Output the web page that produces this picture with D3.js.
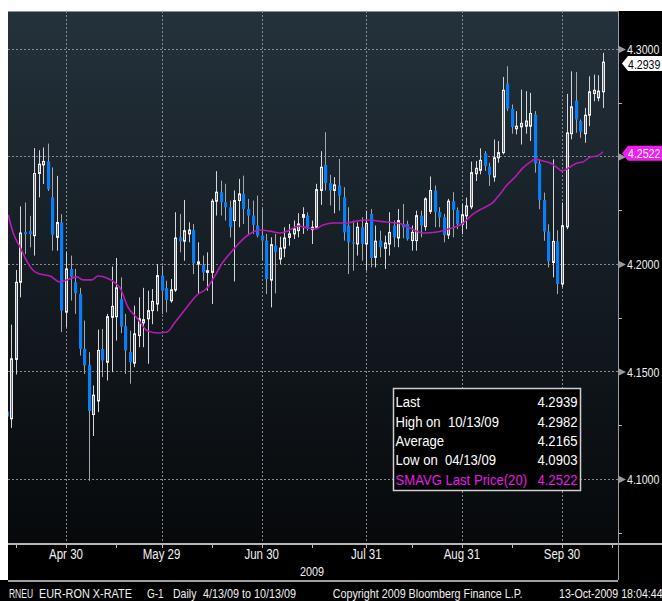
<!DOCTYPE html>
<html><head><meta charset="utf-8">
<script src="https://cdn.jsdelivr.net/npm/d3@7"></script>
<style>
html,body{margin:0;padding:0;background:#fff;}
svg{display:block;font-family:"Liberation Sans",Arial,sans-serif;}
text{white-space:pre;}
</style></head><body>
<svg id="c" width="662" height="601"></svg>
<script>
// ---- data (EUR-RON daily, trading-day index 0 = 4/13/09 ... 131 = 10/13/09)
const opens=[4.1314,4.1280,4.1556,4.1915,4.2148,4.2153,4.2132,4.2421,4.2461,4.2477,
4.2310,4.2124,4.2193,4.1776,4.1977,4.1915,4.1861,4.1605,4.1531,4.1300,
4.1363,4.1605,4.1543,4.1752,4.1755,4.1837,4.1711,4.1590,4.1539,4.1667,
4.1726,4.1745,4.1783,4.1814,4.1946,4.1888,4.1829,4.1879,4.2124,4.2106,
4.2140,4.2158,4.2000,4.1995,4.1961,4.1961,4.2292,4.2334,4.2287,4.2264,
4.2202,4.2295,4.2326,4.2256,4.2225,4.2179,4.2132,4.2109,4.1925,4.2085,
4.2023,4.2074,4.2124,4.2140,4.2155,4.2217,4.2225,4.2160,4.2171,4.2342,
4.2461,4.2376,4.2342,4.2365,4.2311,4.2179,4.2101,4.2093,4.2171,4.2093,
4.2233,4.2031,4.2109,4.2073,4.2093,4.2179,4.2121,4.2186,4.2186,4.2109,
4.2109,4.2225,4.2174,4.2245,4.2342,4.2241,4.2217,4.2135,4.2292,4.2250,
4.2185,4.2224,4.2266,4.2420,4.2436,4.2515,4.2453,4.2405,4.2494,4.2518,
4.2839,4.2722,4.2629,4.2638,4.2641,4.2641,4.2695,4.2467,4.2297,4.2151,
4.2007,4.2105,4.1907,4.2173,4.2606,4.2760,4.2665,4.2606,4.2692,4.2793,
4.2773,4.2801];
const highs=[4.1340,4.1718,4.1972,4.2268,4.2286,4.2224,4.2539,4.2529,4.2542,4.2560,
4.2449,4.2410,4.2232,4.2054,4.2039,4.1977,4.1889,4.1737,4.1590,4.1435,
4.1695,4.1698,4.1768,4.1988,4.2028,4.1938,4.1768,4.1690,4.1806,4.1845,
4.1889,4.1876,4.1884,4.2000,4.1992,4.1922,4.1930,4.2241,4.2233,4.2298,
4.2194,4.2186,4.2101,4.2039,4.2054,4.2303,4.2432,4.2388,4.2373,4.2295,
4.2342,4.2396,4.2411,4.2303,4.2295,4.2318,4.2256,4.2140,4.2124,4.2140,
4.2127,4.2171,4.2186,4.2202,4.2236,4.2264,4.2240,4.2202,4.2373,4.2525,
4.2613,4.2415,4.2404,4.2489,4.2357,4.2264,4.2202,4.2194,4.2217,4.2248,
4.2256,4.2179,4.2155,4.2132,4.2241,4.2202,4.2256,4.2279,4.2202,4.2179,
4.2248,4.2248,4.2310,4.2407,4.2365,4.2264,4.2233,4.2303,4.2334,4.2263,
4.2281,4.2309,4.2476,4.2479,4.2538,4.2525,4.2471,4.2579,4.2572,4.2870,
4.2920,4.2742,4.2711,4.2811,4.2804,4.2796,4.2711,4.2487,4.2332,4.2185,
4.2487,4.2157,4.2286,4.2791,4.2896,4.2893,4.2672,4.2726,4.2873,4.2881,
4.2878,4.2982];
const lows=[4.0903,4.1238,4.1486,4.1845,4.2046,4.2077,4.2039,4.2310,4.2372,4.2340,
4.2062,4.2062,4.1683,4.1706,4.1830,4.1768,4.1574,4.1489,4.0991,4.1200,
4.1311,4.1474,4.1458,4.1497,4.1644,4.1678,4.1489,4.1443,4.1520,4.1613,
4.1613,4.1536,4.1720,4.1780,4.1767,4.1775,4.1820,4.1870,4.2054,4.2015,
4.2101,4.1953,4.1860,4.1922,4.1876,4.1814,4.2225,4.2225,4.2202,4.2124,
4.1919,4.2171,4.2186,4.2140,4.2140,4.2124,4.2015,4.1860,4.1798,4.1863,
4.2000,4.2031,4.2085,4.2116,4.2124,4.2140,4.2155,4.2093,4.2163,4.2275,
4.2342,4.2272,4.2236,4.2248,4.2109,4.1953,4.1969,4.2039,4.2015,4.1969,
4.1984,4.1984,4.2031,4.1977,4.2039,4.2078,4.2078,4.2120,4.2109,4.2062,
4.2062,4.2124,4.2155,4.2233,4.2171,4.2171,4.2101,4.2116,4.2124,4.2162,
4.2139,4.2162,4.2255,4.2386,4.2417,4.2433,4.2363,4.2383,4.2471,4.2510,
4.2711,4.2606,4.2603,4.2556,4.2606,4.2572,4.2425,4.2255,4.2108,4.1984,
4.1938,4.1860,4.1892,4.2162,4.2580,4.2610,4.2587,4.2564,4.2641,4.2757,
4.2757,4.2726];
const closes=[4.1291,4.1559,4.1915,4.2144,4.2138,4.2139,4.2421,4.2464,4.2477,4.2348,
4.2136,4.2193,4.1783,4.1977,4.1941,4.1864,4.1605,4.1528,4.1316,4.1390,
4.1598,4.1551,4.1755,4.1803,4.1889,4.1709,4.1598,4.1543,4.1675,4.1745,
4.1741,4.1783,4.1826,4.1946,4.1876,4.1832,4.1880,4.2121,4.2106,4.2155,
4.2158,4.2003,4.2010,4.1961,4.1969,4.2292,4.2334,4.2287,4.2264,4.2171,
4.2295,4.2326,4.2256,4.2225,4.2182,4.2132,4.2109,4.1930,4.2090,4.2057,
4.2074,4.2121,4.2140,4.2163,4.2186,4.2230,4.2171,4.2171,4.2346,4.2450,
4.2376,4.2342,4.2368,4.2318,4.2147,4.2101,4.2095,4.2171,4.2093,4.2189,
4.2028,4.2106,4.2078,4.2098,4.2147,4.2124,4.2202,4.2171,4.2116,4.2147,
4.2225,4.2179,4.2303,4.2342,4.2241,4.2217,4.2135,4.2292,4.2252,4.2185,
4.2229,4.2270,4.2425,4.2445,4.2482,4.2456,4.2414,4.2494,4.2518,4.2808,
4.2722,4.2637,4.2641,4.2654,4.2665,4.2700,4.2467,4.2297,4.2151,4.2012,
4.2105,4.1907,4.2178,4.2610,4.2731,4.2672,4.2615,4.2692,4.2801,4.2808,
4.2804,4.2939];
// 20-day simple moving average at trading-day positions
const smaIdx=[0.3,1.4,2.9,4.6,5.7,7.3,9.5,11.7,13.2,15.4,16.7,18.7,20,22,23.8,24.9,26.6,28.6,31,33.2,35.2,37,39.6,41.8,44,45.3,47.5,49.7,51.9,54.1,55.6,57.8,60,61.8,64,66.2,67.7,69.5,71.7,74.8,77,79.2,81.4,83.5,86.4,88.6,91.5,94.5,97.4,100,102.5,104.7,106.9,108.4,109.9,111.7,113.4,115,116.1,117.8,119.4,121,122,123.1,125.3,126.6,128.2,129.7,131];
const smaVal=[4.2228,4.2144,4.2079,4.2005,4.1972,4.1953,4.1944,4.1916,4.1926,4.1940,4.1926,4.1926,4.1944,4.1935,4.1912,4.1888,4.1800,4.1749,4.1688,4.1679,4.1684,4.1730,4.1800,4.1856,4.1888,4.1930,4.2009,4.2065,4.2116,4.2149,4.2158,4.2153,4.2144,4.2153,4.2177,4.2167,4.2163,4.2181,4.2191,4.2191,4.2200,4.2205,4.2200,4.2195,4.2188,4.2167,4.2144,4.2149,4.2165,4.2186,4.2233,4.2260,4.2288,4.2326,4.2367,4.2405,4.2447,4.2474,4.2488,4.2479,4.2470,4.2447,4.2433,4.2442,4.2470,4.2474,4.2498,4.2502,4.2522];
const tickIdx=[13,34,56,79,100,122];
const tickLabels=["Apr 30","May 29","Jun 30","Jul 31","Aug 31","Sep 30"];
const minorIdx=[2,24,45,67,89,111,133];
const yTicks=[4.30,4.25,4.20,4.15,4.10];
const yMinor=[4.275,4.225,4.175,4.125,4.075];
const yearLabel="2009";
const lastPrice=4.2939;
const smaLast=4.2522;
const legendLabels=["Last","High on  10/13/09","Average","Low on  04/13/09","SMAVG Last Price(20)"];
const legendValues=[4.2939,4.2982,4.2165,4.0903,4.2522];
const footerTexts=["RNEU","EUR-RON X-RATE","G-1","Daily","4/13/09 to 10/13/09","Copyright 2009 Bloomberg Finance L.P.","13-Oct-2009 18:04:44"];

// ---- layout
const W=662,H=601,L=8,R=618,T=11,B=543,FT=580;
const svg=d3.select("#c");
const x=d3.scaleLinear().domain([13,122]).range([66,562]);
const y=d3.scaleLinear().domain([4.10,4.30]).range([479,49]);

// horizontally condense text (narrow terminal font look) via a transform so the box is real
function condense(sel,f){sel.each(function(){const t=d3.select(this);const px=+t.attr("x"),py=+t.attr("y");t.attr("x",0).attr("y",0).attr("transform",`translate(${px},${py}) scale(${f},1)`);});}
function fitWidth(sel,w){sel.each(function(){const n=this.getComputedTextLength();d3.select(this).call(condense,w/n);});}

const defs=svg.append("defs");
const g=defs.append("linearGradient").attr("id","bg").attr("x1",0).attr("y1",0).attr("x2",0).attr("y2",1);
g.append("stop").attr("offset","0%").attr("stop-color","#24323c");
g.append("stop").attr("offset","55%").attr("stop-color","#131a20");
g.append("stop").attr("offset","100%").attr("stop-color","#07090b");
defs.append("clipPath").attr("id","clip").append("rect").attr("x",L).attr("y",T).attr("width",R-L).attr("height",B-T);

svg.append("rect").attr("width",W).attr("height",H).attr("fill","#fff");
svg.append("rect").attr("x",L).attr("y",T).attr("width",W-L).attr("height",H-T).attr("fill","#000");
svg.append("rect").attr("x",0).attr("y",FT).attr("width",W).attr("height",H-FT).attr("fill","#000");
svg.append("rect").attr("x",L).attr("y",T).attr("width",R-L).attr("height",B-T).attr("fill","url(#bg)");

// grid
const grid=svg.append("g").attr("stroke","#858b90").attr("stroke-width",1).attr("stroke-dasharray","2,2").attr("shape-rendering","crispEdges");
grid.selectAll("line.h").data(yTicks).join("line").attr("x1",L).attr("x2",R).attr("y1",d=>Math.round(y(d))+0.5).attr("y2",d=>Math.round(y(d))+0.5);
grid.selectAll("line.v").data(tickIdx).join("line").attr("y1",T).attr("y2",B).attr("x1",d=>Math.round(x(d))+0.5).attr("x2",d=>Math.round(x(d))+0.5);

// candles
const idx=d3.range(closes.length);
const cg=svg.append("g").attr("clip-path","url(#clip)");
const cx=i=>Math.round(x(i));
cg.selectAll("line.w").data(idx).join("line")
  .attr("x1",i=>cx(i)+0.5).attr("x2",i=>cx(i)+0.5)
  .attr("y1",i=>y(highs[i])).attr("y2",i=>y(lows[i]))
  .attr("stroke",i=>closes[i]>=opens[i]?"#d4d6d8":"#a4a8ac").attr("stroke-width",1);
cg.selectAll("rect.dn").data(idx.filter(i=>closes[i]<opens[i])).join("rect")
  .attr("x",i=>cx(i)-1).attr("width",3.2)
  .attr("y",i=>y(opens[i])).attr("height",i=>Math.max(1,y(closes[i])-y(opens[i])))
  .attr("fill","#0b7ef5");
cg.selectAll("rect.up").data(idx.filter(i=>closes[i]>=opens[i])).join("rect")
  .attr("x",i=>cx(i)-0.5).attr("width",2)
  .attr("y",i=>y(closes[i])).attr("height",i=>Math.max(1,y(opens[i])-y(closes[i])))
  .attr("fill","#6a6f74").attr("stroke","#f2f2f2").attr("stroke-width",1);

// SMA
const line=d3.line().x((d,k)=>x(smaIdx[k])).y(d=>y(d)).curve(d3.curveMonotoneX);
cg.append("path").attr("d",line(smaVal)).attr("fill","none").attr("stroke","#b41cb4").attr("stroke-width",1.6);

// frame lines
const fr=svg.append("g").attr("stroke","#a8acb0").attr("shape-rendering","crispEdges");
fr.append("line").attr("x1",L).attr("x2",R).attr("y1",T+0.5).attr("y2",T+0.5).attr("stroke","#8a9096");
fr.append("line").attr("x1",L).attr("x2",W).attr("y1",B+0.5).attr("y2",B+0.5).attr("stroke-width",2).attr("stroke","#b8b8b8");
fr.append("line").attr("x1",R+0.5).attr("x2",R+0.5).attr("y1",T).attr("y2",FT).attr("stroke","#9a9ea2");
fr.append("line").attr("x1",L).attr("x2",R).attr("y1",FT+0.5).attr("y2",FT+0.5).attr("stroke-width",2).attr("stroke","#a0a0a0");

// x ticks
const xt=svg.append("g").attr("stroke","#b8b8b8").attr("shape-rendering","crispEdges");
xt.selectAll("line.m").data(tickIdx.concat(minorIdx)).join("line")
  .attr("x1",d=>Math.round(x(d))+0.5).attr("x2",d=>Math.round(x(d))+0.5).attr("y1",B).attr("y2",B+5);
svg.append("g").selectAll("text").data(tickLabels).join("text")
  .attr("x",(d,k)=>x(tickIdx[k])).attr("y",558.5).attr("text-anchor","middle")
  .attr("fill","#f2f2f2").attr("font-size",14).text(d=>d).call(condense,0.82);
svg.append("text").attr("x",324).attr("y",576).attr("text-anchor","end").attr("fill","#f2f2f2")
  .attr("font-size",13.2).text(yearLabel).call(condense,0.82);

// y axis
const flagVals=[lastPrice,smaLast];
const ya=svg.append("g");
ya.selectAll("line.mn").data(yMinor).join("line").attr("x1",R).attr("x2",R+4)
  .attr("y1",d=>Math.round(y(d))+0.5).attr("y2",d=>Math.round(y(d))+0.5).attr("stroke","#b0b0b0").attr("shape-rendering","crispEdges");
ya.selectAll("path.tri").data(yTicks).join("path")
  .attr("d",d=>{const yy=y(d)+0.5;return `M${R+1},${yy-3.5}L${R+8},${yy}L${R+1},${yy+3.5}Z`;}).attr("fill","#9a9a9a");
ya.selectAll("text").data(yTicks.filter(t=>flagVals.every(f=>Math.abs(y(t)-y(f))>8))).join("text").attr("x",R+9).attr("y",d=>y(d)+5)
  .attr("fill","#f0f0f0").attr("font-size",13.4).text(d=>d.toFixed(4)).call(condense,0.79);

// value flags
function flag(v,fill,tc){
  const yy=y(v)+1.5, h=7.5;
  svg.append("path").attr("d",`M${R+4},${yy}L${R+10},${yy-h}L${W},${yy-h}L${W},${yy+h}L${R+10},${yy+h}Z`).attr("fill",fill);
  svg.append("text").attr("x",R+10).attr("y",yy+5).attr("fill",tc).attr("font-size",13.4).text(v.toFixed(4)).call(condense,0.79);
}
flag(lastPrice,"#ffffff","#000000");
flag(smaLast,"#f01cf0","#ffffff");

// legend
const lg=svg.append("g");
lg.append("rect").attr("x",393.5).attr("y",388.5).attr("width",187).attr("height",102).attr("fill","#000").attr("stroke","#cfcfcf").attr("stroke-width",1.5);
lg.selectAll("text.l").data(legendLabels).join("text").attr("x",395.5).attr("y",(d,k)=>407.3+k*19.3)
  .attr("fill",(d,k)=>k===4?"#e81ce8":"#ffffff").attr("font-size",15.5).text(d=>d).call(condense,0.846);
lg.selectAll("text.v").data(legendValues).join("text").attr("x",577.5).attr("y",(d,k)=>407.3+k*19.3).attr("text-anchor","end")
  .attr("fill",(d,k)=>k===4?"#e81ce8":"#ffffff").attr("font-size",15.5).text(d=>d.toFixed(4)).call(condense,0.846);

// footer
const fx=[9,39,147,173,203,332.7,559];
const fw=[24,93,16.7,23.5,93,190,0];
svg.append("g").selectAll("text").data(footerTexts).join("text").attr("x",(d,k)=>fx[k]).attr("y",597.5)
  .attr("fill","#f0f0f0").attr("font-size",13).text(d=>d)
  .each(function(d,k){ if(fw[k]) d3.select(this).call(fitWidth,fw[k]); else d3.select(this).call(condense,0.82); });
</script></body></html>
